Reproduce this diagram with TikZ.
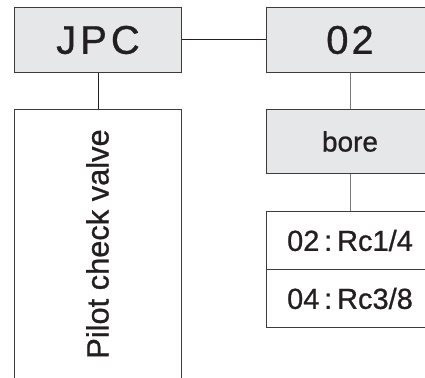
\documentclass[tikz,border=0pt]{standalone}
\usepackage{fontspec}
\setmainfont{Liberation Sans}
\newfontfamily\heavy[RawFeature={embolden=0.8}]{Liberation Sans}
\definecolor{boxfill}{HTML}{E6E7E8}
\definecolor{boxline}{HTML}{3C3C3C}
\definecolor{txt}{HTML}{231F20}
\definecolor{lineR}{HTML}{7A7A7A}
\begin{document}
\begin{tikzpicture}[x=1pt,y=-1pt,
  box/.style={draw=boxline, line width=1pt, inner sep=0pt, anchor=north west,
              minimum width=167pt, text=txt},
  gbox/.style={box, fill=boxfill},
  big/.style={font=\heavy\fontsize{40}{40}\selectfont},
  mid/.style={font=\heavy\fontsize{28}{28}\selectfont},
  connL/.style={draw=txt, line width=1pt},
  connR/.style={draw=lineR, line width=1pt}]
\useasboundingbox (0,0) rectangle (425,377);
\clip (0,0) rectangle (425,377);
% top row
\node[gbox, minimum height=65pt, big] (jpc) at (14,7) {J\hspace{4pt}P\hspace{4pt}C};
\node[gbox, minimum height=65pt, big] (n02) at (266,7) {0\hspace{3pt}2};
% left column
\node[box, minimum height=282pt] (pilot) at (14,109) {};
\node[text=txt, rotate=90, font=\heavy\fontsize{30.8}{31}\selectfont] (pilottxt) at (97.5,244) {Pilot check valve};
% right column
\node[gbox, minimum height=64pt, mid] (bore) at (266,109) {bore};
\node[box, minimum height=58pt, font=\heavy\fontsize{29}{29}\selectfont] (opt1) at (266,211) {02\,:\,Rc1/4};
\node[box, minimum height=58pt, font=\heavy\fontsize{29}{29}\selectfont] (opt2) at (266,269) {04\,:\,Rc3/8};
% connectors
\draw[connL] (jpc.east) -- (n02.west);
\draw[connL] (jpc.south) -- (pilot.north);
\draw[connR] (n02.south) -- (bore.north);
\draw[connR] (bore.south) -- (opt1.north);
\end{tikzpicture}
\end{document}
